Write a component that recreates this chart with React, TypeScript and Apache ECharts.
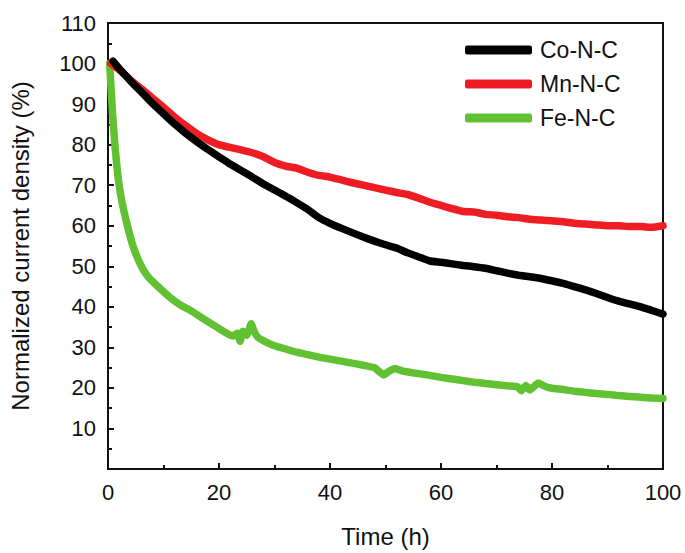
import React, { useEffect, useRef } from "react";
import * as echarts from "echarts";

const seriesNames = ["Co-N-C", "Mn-N-C", "Fe-N-C"];
const seriesColors = ["#000000", "#ee1d23", "#62c133"];

const coX = [0.9, 2, 4, 6, 8, 10, 12, 14, 16, 18, 20, 22, 24, 26, 28, 30, 32, 34, 36, 38, 40, 42, 44, 46, 48, 50, 52, 54, 56, 58, 60, 62, 64, 66, 68, 70, 72, 74, 76, 78, 80, 82, 84, 86, 88, 90, 92, 94, 96, 98, 100];
const coY = [100.6, 98.8, 95.8, 93, 90.2, 87.6, 85.1, 82.8, 80.7, 78.8, 77, 75.2, 73.6, 72, 70.3, 68.8, 67.3, 65.7, 64, 62, 60.6, 59.4, 58.3, 57.2, 56.2, 55.3, 54.5, 53.3, 52.3, 51.3, 51, 50.6, 50.2, 49.9, 49.5, 48.9, 48.3, 47.8, 47.4, 47.0, 46.4, 45.8, 45.0, 44.2, 43.3, 42.3, 41.4, 40.7, 40, 39.1, 38.2];

const mnX = [0.5, 2, 4, 6, 8, 10, 12, 14, 16, 18, 20, 22, 24, 26, 28, 30, 32, 34, 36, 38, 40, 42, 44, 46, 48, 50, 52, 54, 56, 58, 60, 62, 64, 66, 68, 70, 72, 74, 76, 78, 80, 82, 84, 86, 88, 90, 92, 94, 96, 98, 100];
const mnY = [100, 98.5, 96, 93.8, 91.5, 89.2, 86.8, 84.7, 82.7, 81.2, 80, 79.3, 78.7, 78, 77, 75.6, 74.7, 74.2, 73.2, 72.4, 72, 71.3, 70.6, 70, 69.4, 68.8, 68.2, 67.7, 66.8, 65.8, 65, 64.2, 63.5, 63.4, 62.8, 62.6, 62.2, 62, 61.6, 61.4, 61.2, 61.0, 60.6, 60.4, 60.2, 60, 60, 59.8, 59.8, 59.6, 60.0];

const feX = [0.3, 0.8, 1.3, 1.8, 2.5, 3.5, 4.5, 5.5, 6.5, 7.5, 9, 11, 13, 15, 17, 19, 21, 22.5, 23.3, 23.8, 24.3, 25, 25.8, 26.3, 27, 28.5, 30, 32, 34, 36, 38, 40, 42, 44, 46, 48, 49.7, 50.5, 51.7, 53, 55, 58, 60, 62, 64, 66, 68, 70, 72, 73.8, 74.5, 75.3, 76, 77.5, 79, 80, 82, 84, 86, 88, 90, 92, 94, 96, 98, 100];
const feY = [100, 88, 79, 72, 66, 60, 55, 51.5, 48.8, 47, 45, 42.5, 40.5, 39, 37.2, 35.5, 33.8, 32.8, 33.5, 31.5, 34, 33, 35.8, 34, 32.5, 31.3, 30.4, 29.6, 28.8, 28.2, 27.6, 27.1, 26.6, 26.1, 25.6, 25.0, 23.2, 24, 24.8, 24.2, 23.7, 23.1, 22.6, 22.2, 21.8, 21.4, 21.1, 20.8, 20.5, 20.3, 19.3, 20.6, 19.5, 21.2, 20.2, 19.9, 19.6, 19.2, 18.9, 18.6, 18.4, 18.1, 17.9, 17.7, 17.5, 17.4];

const xTicks = { min: 0, max: 100, interval: 20 };
const yTicks = { min: 0, max: 110, interval: 10 };

const FONT = "Liberation Sans";

export default function App() {
  const ref = useRef<HTMLDivElement>(null);
  useEffect(() => {
    document.body.style.margin = "0";
    if (!ref.current) return;
    const chart = echarts.init(ref.current, undefined, { renderer: "svg" });
    const pairs = (xs: number[], ys: number[]) => xs.map((x, i) => [x, ys[i]]);
    const allData = [pairs(coX, coY), pairs(mnX, mnY), pairs(feX, feY)];
    chart.setOption({
      animation: false,
      backgroundColor: "#ffffff",
      textStyle: { fontFamily: FONT },
      grid: {
        left: 105,
        right: 22,
        top: 23,
        bottom: 84,
        show: true,
        borderColor: "#111",
        borderWidth: 2,
        containLabel: false,
      },
      legend: {
        orient: "vertical",
        left: 465,
        top: 38,
        padding: 0,
        itemGap: 10,
        itemWidth: 67,
        itemHeight: 9,
        icon: "roundRect",
        data: seriesNames,
        textStyle: {
          fontFamily: FONT,
          fontSize: 23,
          color: "#111",
          lineHeight: 24,
          padding: [0, 0, 0, 3],
        },
      },
      xAxis: {
        type: "value",
        min: xTicks.min,
        max: xTicks.max,
        interval: xTicks.interval,
        name: "Time (h)",
        nameLocation: "middle",
        nameGap: 55,
        nameTextStyle: { fontFamily: FONT, fontSize: 24, color: "#111" },
        axisLine: { show: true, lineStyle: { color: "#111", width: 2 } },
        axisTick: { show: true, inside: true, length: 6, lineStyle: { color: "#111", width: 2 } },
        minorTick: { show: true, splitNumber: 2, length: 4, lineStyle: { color: "#111", width: 2 } },
        axisLabel: { fontFamily: FONT, fontSize: 22, color: "#111", margin: 12 },
        splitLine: { show: false },
      },
      yAxis: {
        type: "value",
        min: yTicks.min,
        max: yTicks.max,
        interval: yTicks.interval,
        name: "Normalized current density (%)",
        nameLocation: "middle",
        nameGap: 76,
        nameTextStyle: { fontFamily: FONT, fontSize: 24, color: "#111" },
        axisLine: { show: true, lineStyle: { color: "#111", width: 2 } },
        axisTick: { show: true, inside: true, length: 6, lineStyle: { color: "#111", width: 2 } },
        minorTick: { show: true, splitNumber: 2, length: 4, lineStyle: { color: "#111", width: 2 } },
        axisLabel: {
          fontFamily: FONT,
          fontSize: 22,
          color: "#111",
          margin: 12,
          formatter: (v: number) => (v === 0 ? "" : String(v)),
        },
        splitLine: { show: false },
      },
      series: seriesNames.map((name, i) => ({
        name,
        type: "line",
        data: allData[i],
        showSymbol: false,
        symbol: "none",
        smooth: 0.1,
        color: seriesColors[i],
        lineStyle: { color: seriesColors[i], width: 7.5, cap: "round", join: "round" },
        itemStyle: { color: seriesColors[i] },
        z: 3 - i,
      })),
    });
    return () => chart.dispose();
  }, []);
  return <div ref={ref} style={{ width: 685, height: 553 }} />;
}
